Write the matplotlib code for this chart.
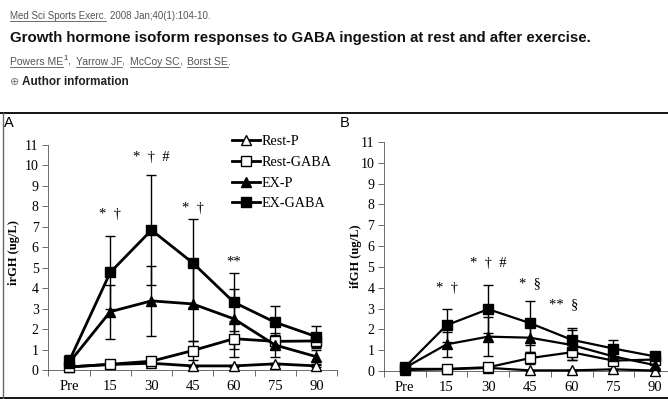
import matplotlib
matplotlib.use("Agg")
import matplotlib.pyplot as plt
from matplotlib.lines import Line2D
import numpy as np

W, H = 668, 399

timePoints = ["Pre", "15", "30", "45", "60", "75", "90"]
seriesNames = ["Rest-P", "Rest-GABA", "EX-P", "EX-GABA"]

# panel A - irGH (ug/L)
irRestP = [0.15, 0.27, 0.33, 0.20, 0.20, 0.30, 0.20]
irRestGaba = [0.15, 0.28, 0.43, 0.95, 1.53, 1.40, 1.42]
irExP = [0.35, 2.85, 3.38, 3.23, 2.50, 1.22, 0.65]
irExGaba = [0.42, 4.77, 6.84, 5.24, 3.31, 2.33, 1.63]
irRestPErr = [0.05, 0.05, 0.05, 0.05, 0.05, 0.05, 0.05]
irRestGabaErr = [0.10, 0.10, 0.15, 0.45, 0.87, 0.30, 0.35]
irExPErr = [0.20, 1.32, 1.72, 1.80, 1.45, 0.60, 0.35]
irExGabaErr = [0.30, 1.79, 2.67, 2.14, 1.41, 0.80, 0.50]
irNotes = ["* \u2020", "* \u2020 #", "* \u2020", "**"]
irNoteX = [1, 2, 3, 4]
irNoteY = [7.6, 10.4, 7.9, 5.3]

# panel B - ifGH (ug/L)
ifRestP = [0.05, 0.08, 0.15, 0.03, 0.03, 0.08, 0.02]
ifRestGaba = [0.10, 0.10, 0.18, 0.62, 0.90, 0.50, 0.55]
ifExP = [0.15, 1.28, 1.65, 1.60, 1.25, 0.70, 0.28]
ifExGaba = [0.18, 2.20, 2.97, 2.30, 1.50, 1.08, 0.70]
ifRestPErr = [0.02, 0.02, 0.02, 0.02, 0.02, 0.02, 0.02]
ifRestGabaErr = [0.05, 0.05, 0.05, 0.30, 0.35, 0.15, 0.15]
ifExPErr = [0.05, 0.60, 0.93, 0.70, 0.70, 0.30, 0.15]
ifExGabaErr = [0.05, 0.80, 1.15, 1.05, 0.57, 0.40, 0.20]
ifNotes = ["* \u2020", "* \u2020 #", "* \u00a7", "** \u00a7"]
ifNoteX = [1, 2, 3, 3.8]
ifNoteY = [3.95, 5.15, 4.2, 3.2]

serif = "Liberation Serif"
markerStyles = [("^", "white"), ("s", "white"), ("^", "black"), ("s", "black")]


def px(x, y):
    return x / W, 1 - y / H


def drawPanel(ax, means, errs, noteTexts, noteX, noteY, ylabel, lw, ms):
    x = np.arange(len(timePoints))
    for (marker, face), m, e in zip(markerStyles, means, errs):
        ax.errorbar(x, m, yerr=e, color="black", lw=lw, marker=marker,
                    markersize=ms, markerfacecolor=face, markeredgecolor="black",
                    markeredgewidth=1, ecolor="black", elinewidth=1, capsize=3.5,
                    capthick=1, clip_on=False, zorder=3)
    for t, nx, ny in zip(noteTexts, noteX, noteY):
        ax.text(nx, ny, t.replace(" ", "  "), ha="center", va="center", fontsize=10.5, family=serif)
    ax.set_xlim(-0.5, 6.5)
    ax.set_ylim(0, 11)
    ax.set_yticks(range(12))
    ax.set_xticks(x)
    ax.set_xticklabels(timePoints, family=serif, fontsize=10.5)
    ax.set_yticklabels([str(v) for v in range(12)], family=serif, fontsize=10)
    ax.set_xticks(np.arange(-0.5, 7, 1), minor=True)
    ax.tick_params(axis="x", which="major", length=0, pad=7)
    ax.tick_params(axis="x", which="minor", length=4, direction="out", width=0.6, color="#555555")
    ax.tick_params(axis="y", length=4, direction="out", width=0.6, color="#555555", pad=3)
    ax.spines["top"].set_visible(False)
    ax.spines["right"].set_visible(False)
    ax.spines["left"].set_color("#555555")
    ax.spines["bottom"].set_color("#555555")
    ax.spines["left"].set_linewidth(0.6)
    ax.spines["bottom"].set_linewidth(0.6)
    ax.set_ylabel(ylabel, family=serif, fontweight="bold", fontsize=9)
    ax.patch.set_alpha(0)


fig = plt.figure(figsize=(W / 100, H / 100), dpi=100)

# header
sans = "Liberation Sans"
renderer = fig.canvas.get_renderer()


def putText(x, y, s, underline=False, **kw):
    t = fig.text(*px(x, y), s, va="baseline", **kw)
    bb = t.get_window_extent(renderer)
    if underline:
        fig.add_artist(Line2D([bb.x0 / W, bb.x1 / W], [1 - (y + 1.5) / H] * 2,
                              color=kw.get("color", "black"), lw=0.6))
    return bb.x1


xEnd = putText(10, 19, "Med Sci Sports Exerc.", underline=True, family=sans, fontsize=7, color="#555555")
putText(xEnd + 4, 19, "2008 Jan;40(1):104-10.", family=sans, fontsize=7, color="#555555")
putText(10, 42, "Growth hormone isoform responses to GABA ingestion at rest and after exercise.",
        family=sans, fontsize=10.8, fontweight="bold", color="#111111")

xCur = 10
authors = ["Powers ME", "Yarrow JF", "McCoy SC", "Borst SE"]
for i, a in enumerate(authors):
    xCur = putText(xCur, 65, a, underline=True, family=sans, fontsize=7.5, color="#555555")
    if i == 0:
        xCur = putText(xCur + 0.5, 60, "1", family=sans, fontsize=5.5, color="#333333")
    xCur = putText(xCur, 65, ", " if i < len(authors) - 1 else ".", family=sans, fontsize=7.5, color="#555555")
    xCur += 2
putText(10, 85, "\u2295", family="DejaVu Sans", fontsize=8, color="#777777")
putText(22, 85, "Author information", family=sans, fontsize=8.5, fontweight="bold", color="#222222")

# frame lines
fig.add_artist(Line2D([0, 1], [1 - 113 / H] * 2, color="black", lw=1.3))
fig.add_artist(Line2D([0, 1], [1 - 397.5 / H] * 2, color="black", lw=1.3))
fig.add_artist(Line2D([2.5 / W] * 2, [0, 1 - 113 / H], color="#666666", lw=1))

# panel A
axA = fig.add_axes([48.4 / W, (H - 370) / H, (337 - 48.4) / W, 225 / H])
drawPanel(axA, [irRestP, irRestGaba, irExP, irExGaba],
          [irRestPErr, irRestGabaErr, irExPErr, irExGabaErr],
          irNotes, irNoteX, irNoteY, "irGH (ug/L)", 2, 7)
axA.yaxis.set_label_coords(-0.098, 0.52)
fig.text(*px(4, 127), "A", family=sans, fontsize=10.5, va="baseline")

handles = [Line2D([], [], color="black", lw=2, marker=m, markersize=7,
                  markerfacecolor=f, markeredgecolor="black") for m, f in markerStyles]
fig.legend(handles, seriesNames, loc="upper left", bbox_to_anchor=px(232, 135),
           bbox_transform=fig.transFigure, frameon=False, borderpad=0, borderaxespad=0,
           handlelength=2.0, handletextpad=0.1, labelspacing=0.55,
           prop={"family": serif, "size": 10.2})

# panel B
axB = fig.add_axes([384 / W, (H - 371) / H, 292 / W, 229 / H])
drawPanel(axB, [ifRestP, ifRestGaba, ifExP, ifExGaba],
          [ifRestPErr, ifRestGabaErr, ifExPErr, ifExGabaErr],
          ifNotes, ifNoteX, ifNoteY, "ifGH (ug/L)", 1.6, 6.5)
axB.yaxis.set_label_coords(-0.075, 0.5)
fig.text(*px(340, 127), "B", family=sans, fontsize=10.5, va="baseline")

fig.savefig("out.png", dpi=100)
